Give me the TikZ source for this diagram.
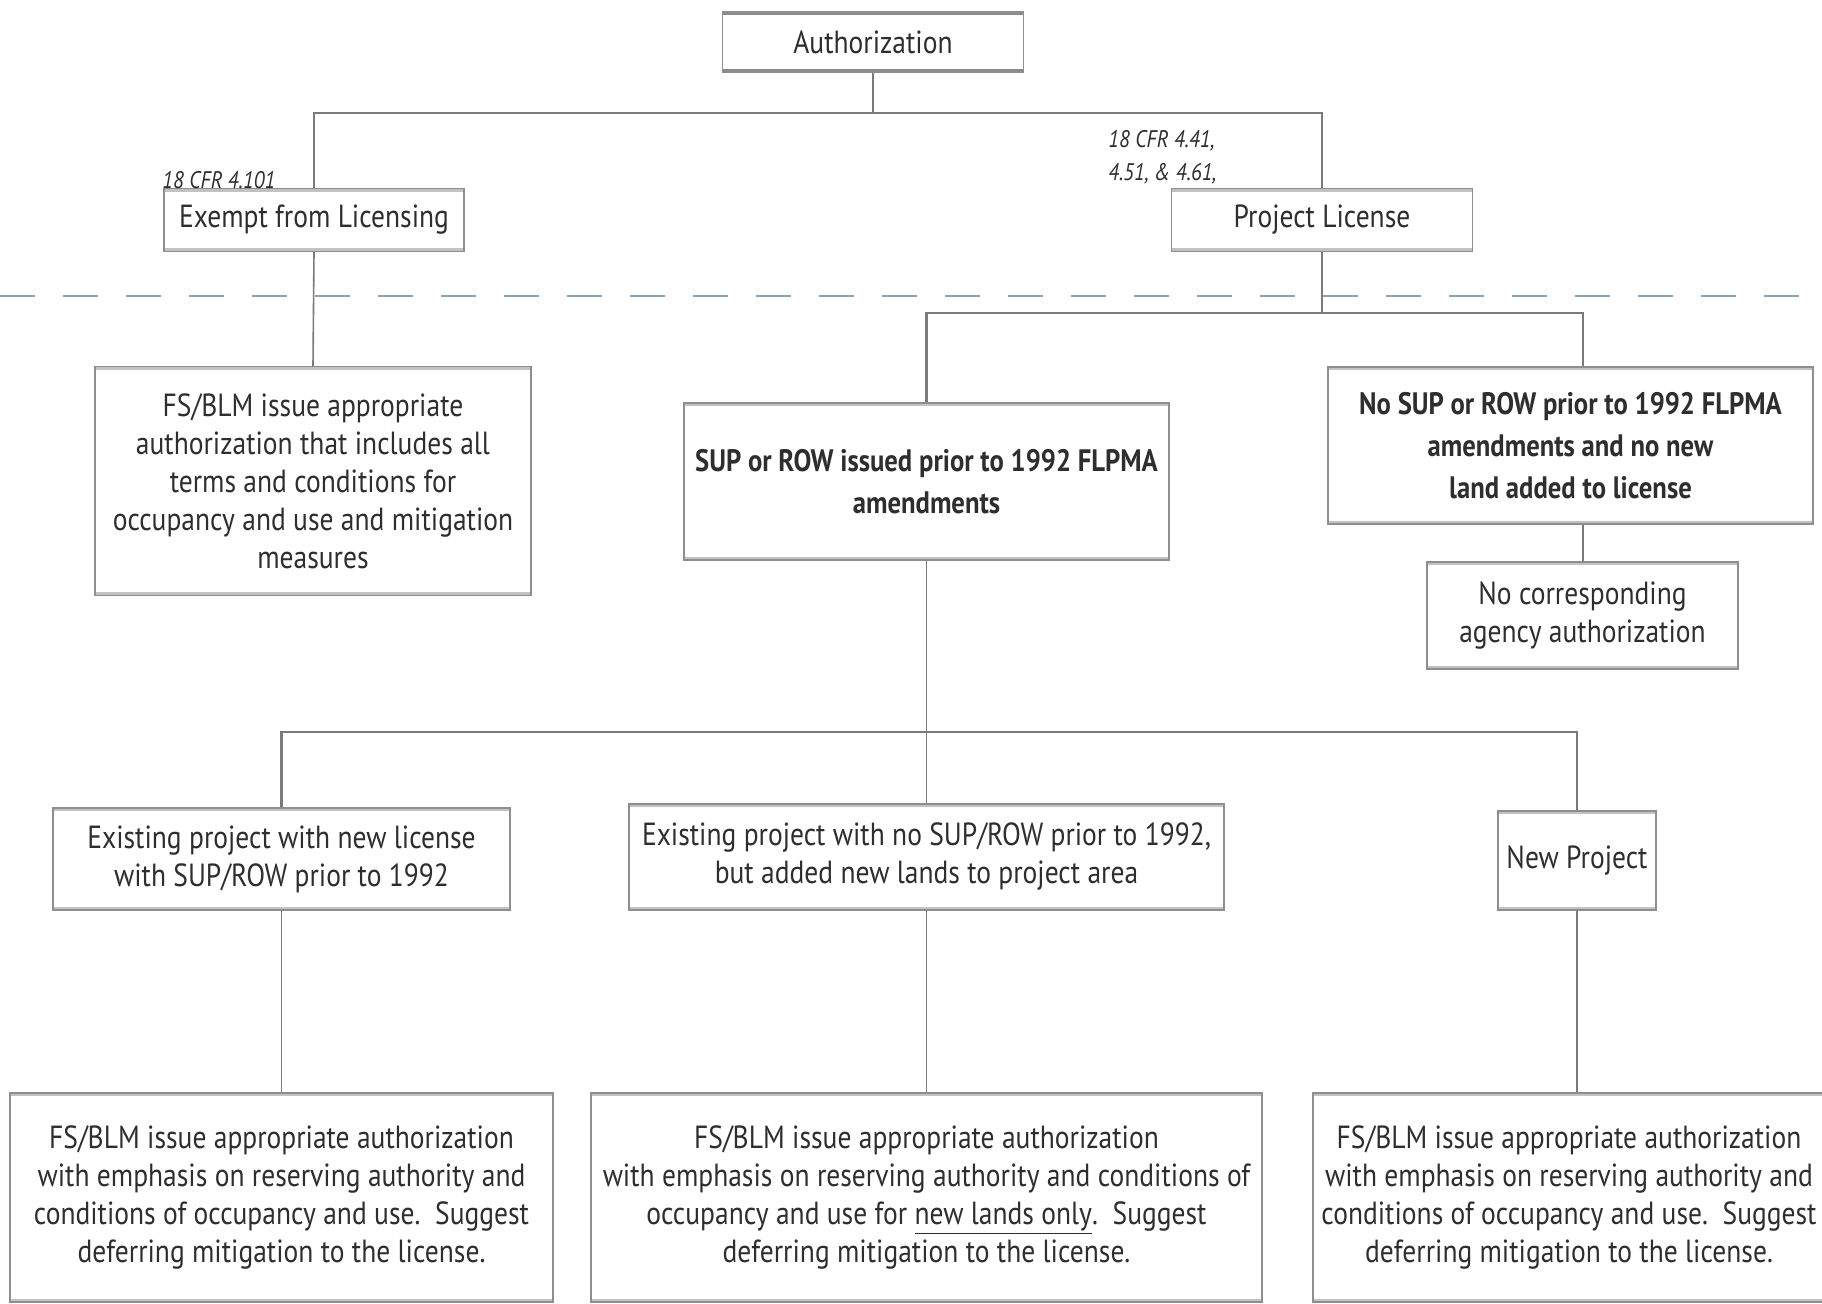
\documentclass[tikz,border=0pt]{standalone}
\usepackage{fontspec}
\setmainfont[FakeStretch=0.86]{PT Sans}
\usetikzlibrary{calc}
\definecolor{txt}{HTML}{2E2E2E}
\definecolor{ln}{HTML}{7A7A7A}
\definecolor{edgec}{HTML}{8E8E8E}
\definecolor{barc}{HTML}{C2C2C2}
\definecolor{bardark}{HTML}{8A8A8A}
\definecolor{dashc}{HTML}{8FA4B2}
\begin{document}
\begin{tikzpicture}[x=0.5pt,y=-0.5pt,
  box/.style={draw=edgec, line width=0.7pt, fill=white, align=center, text=txt,
    inner sep=0pt, font=\fontsize{16}{19}\selectfont,
    path picture={\draw[barc,line width=3.2pt]
      (path picture bounding box.north west) -- (path picture bounding box.north east)
      (path picture bounding box.south west) -- (path picture bounding box.south east);}},
  darkbox/.style={box, path picture={\draw[bardark,line width=3.2pt]
      (path picture bounding box.north west) -- (path picture bounding box.north east)
      (path picture bounding box.south west) -- (path picture bounding box.south east);}},
  titlefont/.style={font=\fontsize{16}{19}\selectfont},
  boldfont/.style={font=\bfseries\fontsize{15.5}{21}\selectfont},
  conn/.style={draw=ln, line width=0.8pt},
  bus/.style={draw=ln, line width=1.1pt},
  cfr/.style={text=txt, inner sep=0pt, align=left, font=\itshape\fontsize{12}{16.5}\selectfont}
]
\useasboundingbox (0,0) rectangle (1822,1304);
\fill[white] (0,0) rectangle (1822,1304);

% dashed separator
\draw[dashc, line width=1.4pt, dash pattern=on 17.5pt off 14pt] (0,296) -- (1822,296);

% nodes
\node[darkbox, titlefont, minimum width=150.5pt, minimum height=30pt] (auth) at (873,42) {Authorization};
\node[box, titlefont, minimum width=150pt, minimum height=31.5pt] (exempt) at (314,220) {Exempt from Licensing};
\node[box, titlefont, minimum width=150.5pt, minimum height=31.5pt] (plic) at (1322,220) {Project License};
\node[cfr, anchor=south west] (cfr1) at (162,189) {18 CFR 4.101};
\node[cfr, anchor=north west] (cfr2) at (1108,130) {18 CFR 4.41,\\4.51, \& 4.61,};

\node[box, minimum width=218pt, minimum height=114.5pt] (fs1) at (313,481)
  {FS/BLM issue appropriate\\authorization that includes all\\terms and conditions for\\occupancy and use and mitigation\\measures};
\node[box, boldfont, minimum width=242.5pt, minimum height=78.5pt] (sup) at (926.5,481.5)
  {SUP or ROW issued prior to 1992 FLPMA\\amendments};
\node[box, boldfont, minimum width=242.5pt, minimum height=78.5pt] (nosup) at (1570.5,445.5)
  {No SUP or ROW prior to 1992 FLPMA\\amendments and no new\\land added to license};
\node[box, minimum width=155.5pt, minimum height=53.5pt] (nocorr) at (1582.5,615.5)
  {No corresponding\\agency authorization};

\node[box, minimum width=228.5pt, minimum height=51pt] (exist) at (281.5,859)
  {Existing project with new license\\with SUP/ROW prior to 1992};
\node[box, minimum width=297.5pt, minimum height=53pt] (mid) at (926.5,857)
  {Existing project with no SUP/ROW prior to 1992,\\but added new lands to project area};
\node[box, minimum width=79pt, minimum height=49.5pt] (newp) at (1577,860.5) {New Project};

\node[box, minimum width=271.5pt, minimum height=104.5pt] (bot1) at (281.5,1197.5)
  {FS/BLM issue appropriate authorization\\with emphasis on reserving authority and\\conditions of occupancy and use.~~Suggest\\deferring mitigation to the license.};
\node[box, minimum width=335.5pt, minimum height=104.5pt] (bot2) at (926.5,1197.5)
  {FS/BLM issue appropriate authorization\\with emphasis on reserving authority and conditions of\\occupancy and use for \underline{new lands only}.~~Suggest\\deferring mitigation to the license.};
\node[box, minimum width=256pt, minimum height=104.5pt] (bot3) at (1569,1197.5)
  {FS/BLM issue appropriate authorization\\with emphasis on reserving authority and\\conditions of occupancy and use.~~Suggest\\deferring mitigation to the license.};

% connectors
\coordinate (b1) at (873,113);
\coordinate (b2) at (1322,313);
\coordinate (b2r) at (1583,313);
\coordinate (b3) at (926.5,732);

\draw[conn] (auth.south) -- (b1);
\draw[bus] (exempt.north) |- (b1) -| (plic.north);
\draw[conn] (exempt.south) -- (fs1.north);
\draw[conn] (plic.south) -- (b2);
\draw[bus] (sup.north) |- (b2) -- (b2r) -- (b2r |- nosup.north);
\draw[conn] (b2r |- nosup.south) -- (b2r |- nocorr.north);
\draw[conn] (sup.south) -- (mid.north);
\draw[bus] (exist.north) |- (b3) -| (newp.north);
\draw[conn] (exist.south) -- (bot1.north);
\draw[conn] (mid.south) -- (bot2.north);
\draw[conn] (newp.south) -- (newp.south |- bot3.north);
\end{tikzpicture}
\end{document}
